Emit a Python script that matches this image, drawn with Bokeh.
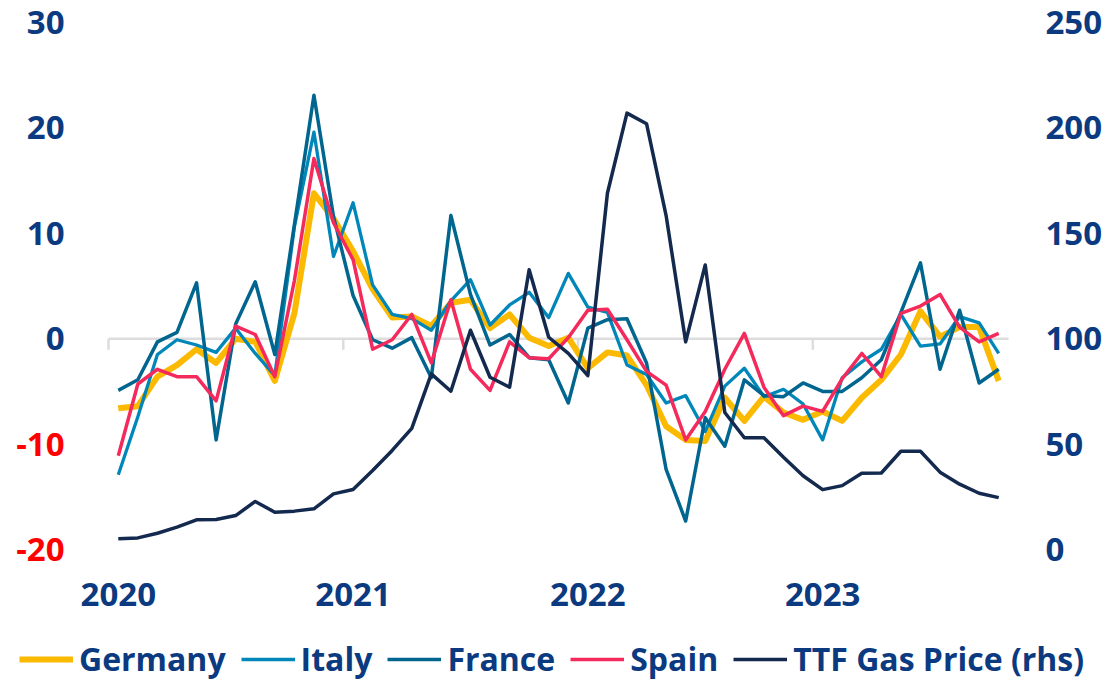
from bokeh.plotting import figure
from bokeh.models import Range1d, Legend, LegendItem
from bokeh.core.properties import value
from bokeh.embed import file_html
from bokeh.resources import INLINE

# Monthly observations, Jan 2020 .. Oct 2023
months = list(range(46))
years = ["2020", "2021", "2022", "2023"]
year_start = [0, 12, 24, 36]

germany = [-6.6, -6.4, -3.6, -2.5, -1.0, -2.3, 0.0, -0.3, -4.0, 2.4, 13.8, 11.4,
           8.3, 4.7, 2.0, 2.1, 1.2, 3.4, 3.7, 1.0, 2.3, 0.1, -0.7, 0.1,
           -2.8, -1.3, -1.6, -4.4, -8.3, -9.6, -9.7, -5.6, -7.8, -5.5, -7.0, -7.7,
           -6.9, -7.8, -5.6, -3.9, -1.5, 2.6, 0.2, 1.1, 1.1, -4.0]
italy = [-12.9, -7.4, -1.5, -0.1, -0.6, -1.3, 1.0, -1.4, -3.5, 10.6, 19.6, 7.8,
         12.9, 5.1, 2.3, 1.9, 0.8, 3.6, 5.6, 1.3, 3.2, 4.4, 2.0, 6.2,
         3.0, 2.5, -2.5, -3.4, -6.1, -5.4, -8.8, -4.5, -2.8, -5.5, -4.8, -6.2,
         -9.6, -3.7, -2.2, -1.0, 2.3, -0.7, -0.5, 2.1, 1.5, -1.4]
france = [-4.9, -3.9, -0.3, 0.6, 5.3, -9.6, 1.4, 5.4, -1.5, 10.8, 23.1, 11.6,
          4.1, -0.1, -0.9, 0.1, -3.7, 11.7, 4.2, -0.6, 0.4, -1.8, -2.0, -6.1,
          1.0, 1.8, 1.9, -2.3, -12.4, -17.3, -7.5, -10.2, -3.9, -5.4, -5.5, -4.2,
          -5.0, -5.0, -3.7, -2.0, 2.5, 7.2, -2.9, 2.7, -4.2, -2.9]
spain = [-11.1, -4.3, -2.9, -3.6, -3.6, -5.9, 1.2, 0.4, -3.6, 5.5, 17.1, 11.0,
         7.5, -1.0, -0.1, 2.3, -2.3, 3.7, -2.9, -4.9, -0.3, -1.8, -1.9, 0.1,
         2.7, 2.8, -0.1, -3.1, -4.4, -9.6, -6.9, -2.9, 0.5, -4.6, -7.3, -6.4,
         -6.9, -3.8, -1.4, -3.6, 2.4, 3.1, 4.2, 1.1, -0.3, 0.5]
ttf_gas = [5.1, 5.5, 7.7, 10.6, 14.1, 14.2, 16.1, 22.8, 17.7, 18.2, 19.3, 26.4,
           28.5, 37.5, 47.0, 57.5, 83.3, 75.1, 104.0, 81.7, 77.0, 132.7, 100.7, 93.0,
           82.5, 169.0, 207.0, 202.0, 158.4, 98.5, 135.0, 65.0, 53.0, 53.0, 43.8, 35.0,
           28.4, 30.3, 36.2, 36.3, 46.6, 46.6, 36.7, 31.0, 26.7, 24.6]

left_ticks = [-20, -10, 0, 10, 20, 30]
left_tick_colors = ["#ff0000", "#ff0000", "#0b3a80", "#0b3a80", "#0b3a80", "#0b3a80"]
right_ticks = [0, 50, 100, 150, 200, 250]

FONT = "Open Sans"
BLUE = "#0b3a80"
FS = "33px"
FS_LEG = "32px"

# --- layout geometry (pixels) ---
W, H = 1107, 681
PLOT_L, PLOT_R, PLOT_T, PLOT_B = 108, 1008, 22, 549
L_MIN, L_MAX = -20, 30
R_MIN, R_MAX = 0, 250

x_lo, x_hi = months[0] - 0.5, months[-1] + 0.5
ppx = (PLOT_R - PLOT_L) / (x_hi - x_lo)
ppy = (PLOT_B - PLOT_T) / (L_MAX - L_MIN)
ppy_r = (PLOT_B - PLOT_T) / (R_MAX - R_MIN)

x_range = Range1d(x_lo - PLOT_L / ppx, x_hi + (W - PLOT_R) / ppx)
y_range = Range1d(L_MIN - (H - PLOT_B) / ppy, L_MAX + PLOT_T / ppy)
gas_range = Range1d(R_MIN - (H - PLOT_B) / ppy_r, R_MAX + PLOT_T / ppy_r)

p = figure(width=W, height=H, output_backend="svg", toolbar_location=None,
           x_range=x_range, y_range=y_range,
           x_axis_location=None, y_axis_location=None,
           min_border_left=0, min_border_right=0, min_border_top=0,
           min_border_bottom=0)
p.extra_y_ranges = {"gas": gas_range}
p.outline_line_color = None
p.xgrid.visible = False
p.ygrid.visible = False

GRAY = "#dddddd"
# zero line and year boundary ticks
p.segment(x0=[x_lo], y0=[0], x1=[x_hi], y1=[0], line_color=GRAY, line_width=2.5)
tick_x = [s - 0.5 for s in year_start]
p.segment(x0=tick_x, y0=[0] * len(tick_x), x1=tick_x, y1=[-1.05] * len(tick_x),
          line_color=GRAY, line_width=2.5)

rg = p.line(months, germany, line_color="#fbb900", line_width=6, line_join="round")
ri = p.line(months, italy, line_color="#0087b9", line_width=3.3, line_join="round")
rf = p.line(months, france, line_color="#00668f", line_width=3.5, line_join="round")
rs = p.line(months, spain, line_color="#f52a5c", line_width=3.5, line_join="round")
rt = p.line(months, ttf_gas, line_color="#13294e", line_width=3.5, line_join="round",
            y_range_name="gas")

txt = dict(text_font=value(FONT), text_font_style="bold", text_font_size=FS)

# left axis labels (negative values in red)
p.text(x=[x_lo] * len(left_ticks), y=left_ticks, text=[str(v) for v in left_ticks],
       text_color=left_tick_colors, text_align="right", text_baseline="middle",
       x_offset=-44, **txt)
# right axis labels
p.text(x=[x_hi] * len(right_ticks), y=right_ticks, text=[str(v) for v in right_ticks],
       text_color=BLUE, text_align="left", text_baseline="middle",
       x_offset=37, y_range_name="gas", **txt)
# x axis labels
p.text(x=year_start, y=[L_MIN] * len(year_start), text=years,
       text_color=BLUE, text_align="center", text_baseline="middle",
       y_offset=45, **txt)

legend = Legend(items=[LegendItem(label="Germany", renderers=[rg]),
                       LegendItem(label="Italy", renderers=[ri]),
                       LegendItem(label="France", renderers=[rf]),
                       LegendItem(label="Spain", renderers=[rs]),
                       LegendItem(label="TTF Gas Price (rhs)", renderers=[rt])],
                orientation="horizontal", location=(19, 1),
                label_text_font=FONT, label_text_font_style="bold",
                label_text_font_size=FS_LEG, label_text_color=BLUE,
                glyph_width=54, glyph_height=20, label_standoff=6, spacing=15,
                padding=0, margin=0, background_fill_alpha=0,
                border_line_color=None)
p.add_layout(legend)

open("out.html", "w").write(file_html(p, INLINE))
